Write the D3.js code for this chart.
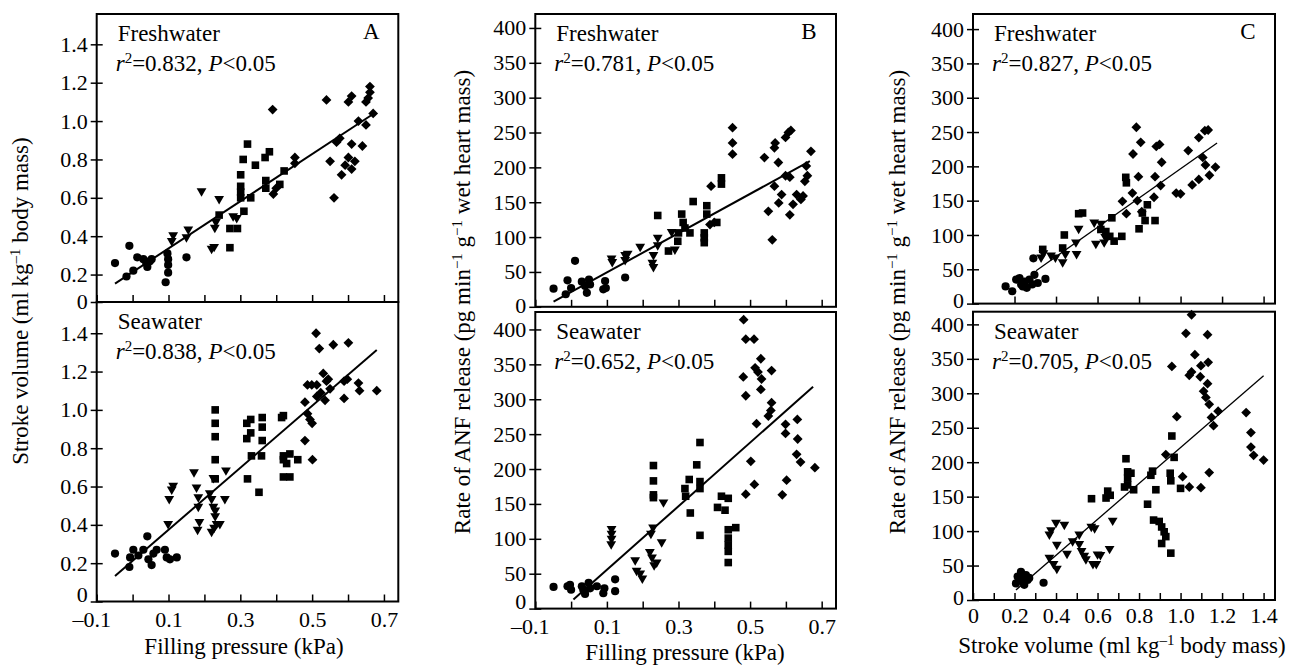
<!DOCTYPE html>
<html lang="en">
<head>
<meta charset="utf-8">
<title>ANF release, filling pressure and stroke volume</title>
<script src="https://d3js.org/d3.v7.min.js"></script>
<style>
body { margin: 0; background: #fff; }
svg text { font-family: "Liberation Serif", "Times New Roman", serif; fill: #000; }
.axis text { font-size: 22px; }
.axis line { stroke: #000; stroke-width: 1.5px; }
.frame { fill: none; stroke: #000; stroke-width: 2px; }
.fit { fill: none; stroke: #000; }
.note { font-size: 23px; }
.title { font-size: 23px; }
</style>
</head>
<body>
<svg width="1300" height="665"></svg>
<script>
// ---- data: [x, y] ----
// A: filling pressure (kPa) vs stroke volume (ml/kg)
var aFreshCircle = [[-0.049,0.26],[-0.009,0.35],[-0.017,0.19],[0.002,0.22],[0.013,0.29],[0.03,0.28],[0.041,0.24],[0.048,0.27],[0.053,0.28],[0.038,0.26],[0.097,0.31],[0.099,0.28],[0.099,0.25],[0.099,0.21],[0.092,0.16],[0.15,0.29]];
var aFreshTriangle = [[0.113,0.40],[0.109,0.37],[0.155,0.43],[0.15,0.39],[0.192,0.63],[0.241,0.59],[0.229,0.44],[0.232,0.47],[0.22,0.33],[0.227,0.34],[0.28,0.50],[0.29,0.49]];
var aFreshSquare = [[0.241,0.51],[0.271,0.44],[0.271,0.34],[0.292,0.44],[0.31,0.53],[0.301,0.72],[0.301,0.66],[0.308,0.80],[0.32,0.88],[0.342,0.77],[0.329,0.60],[0.301,0.63],[0.301,0.60],[0.369,0.81],[0.381,0.84],[0.371,0.69],[0.371,0.65],[0.41,0.67],[0.422,0.74]];
var aFreshDiamond = [[0.39,1.06],[0.392,0.62],[0.40,0.65],[0.452,0.81],[0.452,0.78],[0.54,1.11],[0.561,0.60],[0.55,0.79],[0.568,0.89],[0.577,0.91],[0.582,0.72],[0.592,0.77],[0.601,0.81],[0.61,0.75],[0.619,0.79],[0.61,0.88],[0.64,0.87],[0.601,1.10],[0.61,1.13],[0.629,1.0],[0.65,0.98],[0.65,1.10],[0.656,1.12],[0.661,1.15],[0.661,1.18],[0.67,1.04]];
var aFreshFit = [[-0.049,0.153],[0.670,1.037]];

var aSeaCircle = [[-0.049,0.25],[-0.009,0.18],[-0.007,0.23],[0.002,0.27],[0.041,0.34],[0.03,0.27],[0.044,0.22],[0.053,0.19],[0.067,0.27],[0.09,0.27],[0.095,0.23],[0.104,0.22],[0.123,0.23],[0.016,0.24],[0.058,0.25]];
var aSeaTriangle = [[0.099,0.40],[0.113,0.60],[0.109,0.58],[0.102,0.53],[0.171,0.67],[0.178,0.59],[0.183,0.54],[0.183,0.49],[0.181,0.37],[0.186,0.41],[0.215,0.56],[0.22,0.53],[0.225,0.49],[0.22,0.36],[0.227,0.38],[0.23,0.44],[0.234,0.40],[0.243,0.40],[0.257,0.53],[0.26,0.68],[0.225,0.64],[0.23,0.47]];
var aSeaSquare = [[0.23,1.0],[0.23,0.93],[0.23,0.86],[0.23,0.74],[0.23,0.64],[0.32,0.64],[0.318,0.93],[0.329,0.95],[0.318,0.85],[0.329,0.88],[0.331,0.76],[0.352,0.57],[0.361,0.96],[0.361,0.91],[0.361,0.84],[0.359,0.76],[0.415,0.96],[0.42,0.97],[0.42,0.76],[0.42,0.74],[0.42,0.65],[0.438,0.65],[0.438,0.77],[0.46,0.74],[0.429,0.72]];
var aSeaDiamond = [[0.48,0.84],[0.501,0.74],[0.48,1.04],[0.487,0.98],[0.494,0.95],[0.50,0.93],[0.487,1.13],[0.499,1.13],[0.511,1.40],[0.52,1.32],[0.559,1.34],[0.601,1.35],[0.531,1.19],[0.54,1.15],[0.513,1.07],[0.524,1.09],[0.536,1.05],[0.55,1.11],[0.589,1.15],[0.598,1.16],[0.589,1.06],[0.629,1.14],[0.632,1.10],[0.68,1.10],[0.545,1.16],[0.513,1.13]];
var aSeaFit = [[-0.049,0.133],[0.680,1.313]];

// B: filling pressure (kPa) vs ANF release
var bFreshCircle = [[-0.049,26],[-0.01,38],[-0.015,18],[0,27],[0.011,66],[0.03,36],[0.044,20],[0.05,39],[0.053,32],[0.095,37],[0.097,27],[0.09,25],[0.151,42],[0.039,30]];
var bFreshTriangle = [[0.113,68],[0.115,63],[0.151,73],[0.158,75],[0.151,66],[0.193,85],[0.23,73],[0.227,62],[0.23,56],[0.242,98],[0.242,87],[0.281,106],[0.29,81]];
var bFreshSquare = [[0.242,131],[0.272,80],[0.298,94],[0.30,106],[0.309,133],[0.313,121],[0.318,113],[0.332,106],[0.341,151],[0.372,106],[0.372,92],[0.372,99],[0.379,145],[0.379,133],[0.407,121],[0.42,185],[0.42,176]];
var bFreshDiamond = [[0.391,173],[0.388,118],[0.40,121],[0.451,257],[0.451,235],[0.451,219],[0.54,214],[0.551,137],[0.562,96],[0.57,235],[0.568,228],[0.579,207],[0.568,173],[0.588,161],[0.58,149],[0.599,188],[0.611,186],[0.611,132],[0.599,243],[0.607,250],[0.614,253],[0.62,147],[0.63,161],[0.642,154],[0.648,159],[0.653,180],[0.66,188],[0.657,202],[0.67,223]];
var bFreshFit = [[-0.049,7.4],[0.667,209]];

var bSeaCircle = [[-0.049,31],[-0.01,32],[0,27],[-0.003,34],[0.03,32],[0.039,21],[0.049,37],[0.053,29],[0.072,32],[0.09,22],[0.093,29],[0.123,42],[0.123,25],[0.034,27]];
var bSeaTriangle = [[0.113,113],[0.113,106],[0.113,99],[0.112,91],[0.179,68],[0.183,53],[0.193,49],[0.199,42],[0.22,80],[0.223,106],[0.229,115],[0.226,72],[0.232,61],[0.239,65],[0.253,94],[0.258,151]];
var bSeaSquare = [[0.23,205],[0.23,183],[0.23,163],[0.23,159],[0.318,172],[0.32,161],[0.33,185],[0.333,137],[0.351,206],[0.36,238],[0.36,182],[0.36,172],[0.36,105],[0.409,145],[0.42,161],[0.43,141],[0.439,158],[0.439,113],[0.439,101],[0.439,91],[0.439,82],[0.439,66],[0.46,116]];
var bSeaDiamond = [[0.482,414],[0.488,386],[0.511,386],[0.481,332],[0.488,305],[0.514,345],[0.53,358],[0.522,339],[0.532,329],[0.53,314],[0.56,341],[0.56,295],[0.558,284],[0.551,276],[0.518,265],[0.502,211],[0.512,178],[0.488,164],[0.599,264],[0.599,251],[0.632,271],[0.633,243],[0.63,221],[0.641,210],[0.602,184],[0.59,163],[0.681,202]];
var bSeaFit = [[0.0065,13],[0.676,318]];

// C: stroke volume (ml/kg) vs ANF release
var cFreshCircle = [[0.157,25],[0.189,18],[0.208,35],[0.224,37],[0.232,28],[0.248,32],[0.259,23],[0.272,35],[0.285,28],[0.296,42],[0.291,66],[0.312,30],[0.349,36],[0.24,25]];
var cFreshTriangle = [[0.328,66],[0.339,72],[0.376,69],[0.397,66],[0.432,59],[0.445,71],[0.496,88],[0.509,108],[0.499,71],[0.584,117],[0.592,86],[0.616,115],[0.632,88],[0.637,96]];
var cFreshSquare = [[0.336,79],[0.44,100],[0.432,81],[0.509,131],[0.528,132],[0.616,108],[0.64,105],[0.659,98],[0.669,125],[0.68,91],[0.717,98],[0.736,184],[0.739,176],[0.80,109],[0.816,132],[0.829,121],[0.84,144],[0.877,121]];
var cFreshDiamond = [[0.72,149],[0.739,131],[0.768,161],[0.771,218],[0.787,257],[0.792,150],[0.797,185],[0.808,235],[0.813,134],[0.872,155],[0.877,185],[0.883,229],[0.899,232],[0.904,172],[0.909,206],[0.979,161],[1.0,160],[1.037,223],[1.056,173],[1.088,181],[1.088,242],[1.107,213],[1.12,202],[1.117,252],[1.133,253],[1.139,187],[1.168,199]];
var cFreshFit = [[0.304,48],[1.176,234]];

var cSeaCircle = [[0.207,24],[0.223,29],[0.231,41],[0.239,34],[0.247,22],[0.255,36],[0.263,29],[0.271,32],[0.34,25],[0.215,34],[0.239,27]];
var cSeaTriangle = [[0.368,94],[0.376,100],[0.40,111],[0.44,108],[0.368,60],[0.404,79],[0.388,51],[0.404,44],[0.453,66],[0.48,84],[0.512,94],[0.512,80],[0.523,70],[0.536,63],[0.544,58],[0.57,105],[0.586,103],[0.578,51],[0.594,51],[0.60,65],[0.614,64],[0.658,73],[0.673,114]];
var cSeaSquare = [[0.571,147],[0.641,148],[0.649,158],[0.661,152],[0.737,205],[0.745,186],[0.745,177],[0.745,167],[0.761,184],[0.774,160],[0.73,164],[0.841,139],[0.857,181],[0.865,187],[0.881,160],[0.87,116],[0.897,114],[0.909,106],[0.921,99],[0.929,92],[0.909,82],[0.953,68],[0.958,238],[0.95,184],[0.953,173],[0.969,207],[1.0,162]];
var cSeaDiamond = [[0.929,211],[0.958,339],[0.982,266],[1.01,179],[1.042,164],[1.098,163],[1.138,185],[1.026,387],[1.053,414],[1.069,356],[1.042,326],[1.053,331],[1.098,340],[1.13,385],[1.133,345],[1.095,324],[1.13,314],[1.111,303],[1.122,294],[1.138,284],[1.149,265],[1.159,253],[1.181,274],[1.316,272],[1.339,243],[1.339,222],[1.352,210],[1.40,203]];
var cSeaFit = [[0.207,14.6],[1.40,325.5]];

// ticks, labels, stats
var pressureTicks = [-0.1, 0, 0.1, 0.2, 0.3, 0.4, 0.5, 0.6, 0.7];
var pressureLabels = [-0.1, 0.1, 0.3, 0.5, 0.7];
var volumeTicks = [0, 0.1, 0.2, 0.3, 0.4, 0.5, 0.6, 0.7, 0.8, 0.9, 1.0, 1.1, 1.2, 1.3, 1.4];
var volumeTicksTop = [0.2, 0.4, 0.6, 0.8, 1.0, 1.2, 1.4];
var volumeLabels = [0, 0.2, 0.4, 0.6, 0.8, 1.0, 1.2, 1.4];
var strokeTicks = [0, 0.2, 0.4, 0.6, 0.8, 1.0, 1.2, 1.4];
var anfTicks = [0, 50, 100, 150, 200, 250, 300, 350, 400];
var panelLetters = ["A", "B", "C"];
var rsqFresh = ["0.832", "0.781", "0.827"];
var rsqSea = ["0.838", "0.652", "0.705"];

var svg = d3.select("svg");

// marker shapes
var sym = {
  circle: { draw: function(c, s) { c.arc(0, 0, s, 0, 2 * Math.PI); } },
  square: { draw: function(c, s) { c.rect(-s, -s, 2 * s, 2 * s); } },
  diamond: { draw: function(c, s) { c.moveTo(0, -s); c.lineTo(s, 0); c.lineTo(0, s); c.lineTo(-s, 0); c.closePath(); } },
  triangle: { draw: function(c, s) { c.moveTo(-s, -0.78 * s); c.lineTo(s, -0.78 * s); c.lineTo(0, 0.95 * s); c.closePath(); } }
};
var symSize = { circle: 4.1, square: 3.8, diamond: 4.9, triangle: 4.9 };

var dec = d3.format(".1f");
function numFmt(d) {
  if (Math.abs(d) < 1e-9) return "0";
  return (d < 0 ? "\u2013" : "") + dec(Math.abs(d));
}
function has(list, d) { return list.some(function(v) { return Math.abs(v - d) < 1e-9; }); }

function superText(sel, parts) {
  // parts: [text, style] where style is "i" (italic) or "sup"
  parts.forEach(function(p) {
    var t = sel.append("tspan").text(p[0]);
    if (p[1] === "i") t.attr("font-style", "italic");
    if (p[1] === "sup") t.attr("dy", -8).attr("font-size", "15px");
    if (p[1] === "after") t.attr("dy", 8);
  });
}

function drawPanel(o) {
  var x = d3.scaleLinear().domain(o.xDomain).range(o.xRange);
  var y = d3.scaleLinear().domain(o.yDomain).range(o.yRange);
  var g = svg.append("g");

  // y axis: ticks cross the frame
  var ya = g.append("g").attr("class", "axis")
    .attr("transform", "translate(" + o.xRange[0] + ",0)")
    .call(d3.axisLeft(y).tickValues(o.yTicks).tickSize(6).tickPadding(3)
      .tickFormat(o.yFormat));
  ya.select(".domain").remove();
  ya.selectAll(".tick line").attr("x1", 6);
  // the bottom "0" sits a little higher in the original
  ya.selectAll(".tick text").filter(function(d) { return d === y.domain()[0]; })
    .attr("y", o.zeroShift || 0);

  // x axis: inward ticks
  var xa = g.append("g").attr("class", "axis")
    .attr("transform", "translate(0," + o.yRange[0] + ")")
    .call(d3.axisBottom(x).tickValues(o.xTicks).tickSize(-7).tickPadding(o.xPad || 7.5)
      .tickFormat(function(d) { return o.xLabels && has(o.xLabels, d) ? numFmt(d) : ""; }));
  xa.select(".domain").remove();
  xa.selectAll(".tick text").filter(function(d) { return d < 0; }).attr("dx", "-0.25em");

  g.append("rect").attr("class", "frame")
    .attr("x", o.xRange[0]).attr("y", o.yRange[1])
    .attr("width", o.xRange[1] - o.xRange[0])
    .attr("height", o.yRange[0] - o.yRange[1]);

  // points
  o.series.forEach(function(s) {
    g.append("g").selectAll("path")
      .data(s.data)
      .enter().append("path")
      .attr("transform", function(d) { return "translate(" + x(d[0]) + "," + y(d[1]) + ")"; })
      .attr("d", d3.symbol().type(sym[s.shape]).size(symSize[s.shape]))
      .attr("fill", "#000");
  });

  // regression line
  g.append("path").datum(o.fit)
    .attr("class", "fit")
    .attr("stroke-width", o.fitWidth)
    .attr("d", d3.line().x(function(d) { return x(d[0]); }).y(function(d) { return y(d[1]); }));

  // medium and statistics
  var left = o.xRange[0] + 21, top = o.yRange[1];
  g.append("text").attr("class", "note").attr("x", left).attr("y", top + 27).text(o.medium);
  superText(g.append("text").attr("class", "note").attr("x", left - 2).attr("y", top + 57),
    [["r", "i"], ["2", "sup"], ["=" + o.rsq + ", ", "after"], ["P", "i"], ["<0.05", ""]]);
  if (o.letter) {
    g.append("text").attr("class", "note").attr("text-anchor", "middle")
      .attr("x", o.xRange[1] - 27).attr("y", top + 25).text(o.letter);
  }
  return { x: x, y: y };
}

function series(c, t, s, d) {
  return [
    { shape: "circle", data: c },
    { shape: "triangle", data: t },
    { shape: "square", data: s },
    { shape: "diamond", data: d }
  ];
}

var anfFmt = function(d) { return String(d); };

// column A
drawPanel({ xDomain: [-0.1, 0.74], xRange: [96.7, 398.3], yDomain: [0.057, 1.558], yRange: [302, 14],
  xTicks: pressureTicks, xLabels: null,
  yTicks: [0.057].concat(strokeTicks.slice(1)), yFormat: function(d) { return d < 0.1 ? "0" : numFmt(d); },
  series: series(aFreshCircle, aFreshTriangle, aFreshSquare, aFreshDiamond), fit: aFreshFit, fitWidth: 2,
  medium: "Freshwater", rsq: rsqFresh[0], letter: panelLetters[0], zeroShift: -1 });
drawPanel({ xDomain: [-0.1, 0.74], xRange: [96.7, 398.3], yDomain: [0, 1.563], yRange: [601.5, 302],
  xTicks: pressureTicks, xLabels: pressureLabels, xPad: 9.5,
  yTicks: strokeTicks, yFormat: numFmt,
  series: series(aSeaCircle, aSeaTriangle, aSeaSquare, aSeaDiamond), fit: aSeaFit, fitWidth: 2,
  medium: "Seawater", rsq: rsqSea[0], zeroShift: -7 });

// column B
drawPanel({ xDomain: [-0.1, 0.74], xRange: [535.3, 836], yDomain: [0, 420], yRange: [306.8, 14],
  xTicks: pressureTicks, xLabels: null,
  yTicks: anfTicks, yFormat: anfFmt,
  series: series(bFreshCircle, bFreshTriangle, bFreshSquare, bFreshDiamond), fit: bFreshFit, fitWidth: 2,
  medium: "Freshwater", rsq: rsqFresh[1], letter: panelLetters[1], zeroShift: -1 });
drawPanel({ xDomain: [-0.1, 0.74], xRange: [535.3, 836], yDomain: [0, 425], yRange: [608.6, 312],
  xTicks: pressureTicks, xLabels: pressureLabels, xPad: 9.5,
  yTicks: anfTicks, yFormat: anfFmt,
  series: series(bSeaCircle, bSeaTriangle, bSeaSquare, bSeaDiamond), fit: bSeaFit, fitWidth: 2,
  medium: "Seawater", rsq: rsqSea[1], zeroShift: -7 });

// column C
drawPanel({ xDomain: [0, 1.455], xRange: [973, 1275], yDomain: [0, 422], yRange: [303.6, 14],
  xTicks: volumeTicksTop, xLabels: null,
  yTicks: anfTicks, yFormat: anfFmt,
  series: series(cFreshCircle, cFreshTriangle, cFreshSquare, cFreshDiamond), fit: cFreshFit, fitWidth: 1.3,
  medium: "Freshwater", rsq: rsqFresh[2], letter: panelLetters[2], zeroShift: -3 });
drawPanel({ xDomain: [0, 1.455], xRange: [973, 1275], yDomain: [0, 418.4], yRange: [600, 311.7],
  xTicks: volumeTicks, xLabels: volumeLabels,
  yTicks: anfTicks, yFormat: anfFmt,
  series: series(cSeaCircle, cSeaTriangle, cSeaSquare, cSeaDiamond), fit: cSeaFit, fitWidth: 1.3,
  medium: "Seawater", rsq: rsqSea[2], zeroShift: -3 });

// axis titles
var svTitle = [["Stroke volume (ml kg", ""], ["\u20131", "sup"], [" body mass)", "after"]];
var anfTitle = [["Rate of ANF release (pg min", ""], ["\u22121", "sup"], [" g", "after"], ["\u22121", "sup"], [" wet heart mass)", "after"]];

superText(svg.append("text").attr("class", "title").attr("text-anchor", "middle")
  .attr("transform", "translate(28,301) rotate(-90)"), svTitle);
superText(svg.append("text").attr("class", "title").attr("text-anchor", "middle")
  .attr("transform", "translate(470,302) rotate(-90)"), anfTitle);
superText(svg.append("text").attr("class", "title").attr("text-anchor", "middle")
  .attr("transform", "translate(905,302) rotate(-90)"), anfTitle);

svg.append("text").attr("class", "title").attr("text-anchor", "middle")
  .attr("x", 244).attr("y", 654).text("Filling pressure (kPa)");
svg.append("text").attr("class", "title").attr("text-anchor", "middle")
  .attr("x", 685).attr("y", 660).text("Filling pressure (kPa)");
superText(svg.append("text").attr("class", "title").attr("text-anchor", "middle")
  .attr("x", 1122).attr("y", 653), svTitle);
</script>
</body>
</html>
